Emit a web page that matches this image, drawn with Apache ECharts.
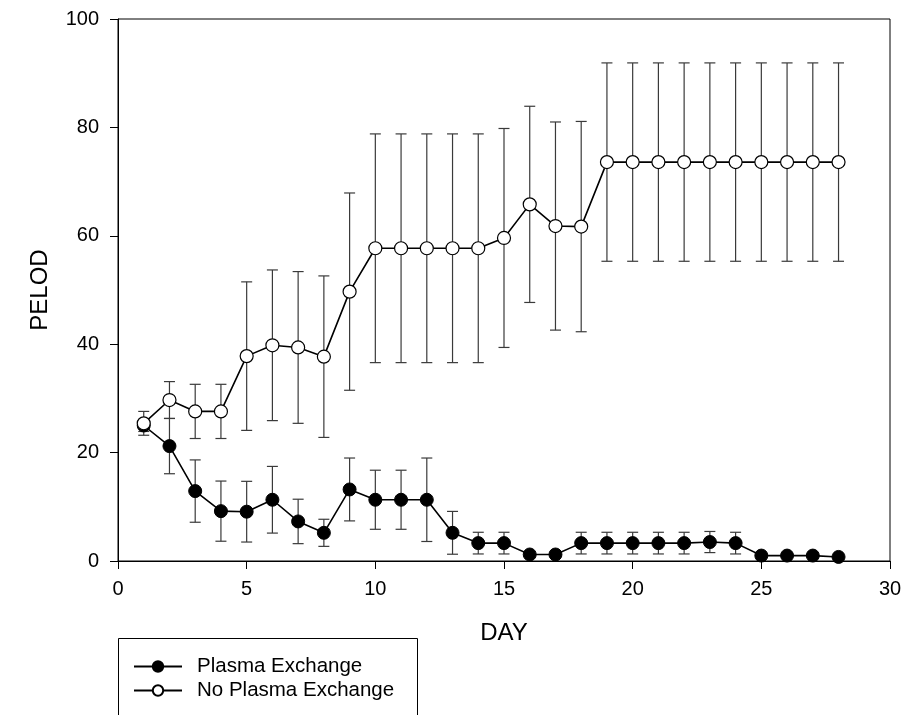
<!DOCTYPE html>
<html>
<head>
<meta charset="utf-8">
<script src="https://cdn.jsdelivr.net/npm/echarts@6/dist/echarts.min.js"></script>
<style>
html,body{margin:0;padding:0;background:#fff;}
#chart{width:906px;height:715px;}
</style>
</head>
<body>
<div id="chart"></div>
<script>
var days = [1,2,3,4,5,6,7,8,9,10,11,12,13,14,15,16,17,18,19,20,21,22,23,24,25,26,27,28];
var peMean = [25.0,21.2,12.9,9.2,9.1,11.3,7.3,5.2,13.2,11.3,11.3,11.3,5.2,3.3,3.3,1.2,1.2,3.3,3.3,3.3,3.3,3.3,3.5,3.3,1.0,1.0,1.0,0.75];
var peErr  = [1.1,5.1,5.75,5.55,5.6,6.15,4.1,2.5,5.8,5.45,5.45,7.7,3.95,2.0,2.0,0,0,2.0,2.0,2.0,2.0,2.0,1.95,2.0,0,0,0,0];
var noMean = [25.4,29.7,27.6,27.6,37.8,39.8,39.4,37.7,49.7,57.7,57.7,57.7,57.7,57.7,59.6,65.8,61.8,61.7,73.6,73.6,73.6,73.6,73.6,73.6,73.6,73.6,73.6,73.6];
var noErr  = [2.2,3.4,5.0,5.0,13.7,13.9,14.0,14.9,18.2,21.1,21.1,21.1,21.1,21.1,20.2,18.1,19.2,19.4,18.3,18.3,18.3,18.3,18.3,18.3,18.3,18.3,18.3,18.3];
var xTicks = [0,5,10,15,20,25,30];
var yTicks = [0,20,40,60,80,100];
var seriesNames = ['Plasma Exchange','No Plasma Exchange'];

function errData(mean, err){
  var out = [];
  for (var i=0;i<days.length;i++){
    if (err[i] > 0) out.push([days[i], mean[i]-err[i], mean[i]+err[i]]);
  }
  return out;
}
function renderErr(params, api){
  var x = api.value(0);
  var lo = api.coord([x, api.value(1)]);
  var hi = api.coord([x, api.value(2)]);
  var hw = 5.5;
  var st = {stroke:'#3a3a3a', lineWidth:1.2};
  return {type:'group', children:[
    {type:'line', shape:{x1:lo[0],y1:lo[1],x2:hi[0],y2:hi[1]}, style:st},
    {type:'line', shape:{x1:lo[0]-hw,y1:lo[1],x2:lo[0]+hw,y2:lo[1]}, style:st},
    {type:'line', shape:{x1:hi[0]-hw,y1:hi[1],x2:hi[0]+hw,y2:hi[1]}, style:st}
  ]};
}
function pairs(mean){ return days.map(function(d,i){return [d, mean[i]];}); }

var chart = echarts.init(document.getElementById('chart'));
var font = '"Liberation Sans", Arial, sans-serif';
chart.setOption({
  animation:false,
  backgroundColor:'#fff',
  grid:{left:118, right:16, top:19, bottom:154, show:true, borderColor:'#000', borderWidth:1},
  xAxis:{type:'value', min:xTicks[0], max:xTicks[xTicks.length-1], interval:5,
    name:'DAY', nameLocation:'middle', nameGap:60,
    nameTextStyle:{fontFamily:font, fontSize:24, color:'#000'},
    axisLine:{show:true, onZero:false, lineStyle:{color:'#000', width:1}},
    axisTick:{show:true, inside:false, length:8, lineStyle:{color:'#000'}},
    axisLabel:{margin:18, fontFamily:font, fontSize:20, color:'#000'},
    splitLine:{show:false}},
  yAxis:{type:'value', min:yTicks[0], max:yTicks[yTicks.length-1], interval:20,
    name:'PELOD', nameLocation:'middle', nameGap:66,
    nameTextStyle:{fontFamily:font, fontSize:24, color:'#000'},
    axisLine:{show:true, onZero:false, lineStyle:{color:'#000', width:1}},
    axisTick:{show:true, inside:false, length:8, lineStyle:{color:'#000'}},
    axisLabel:{margin:19, fontFamily:font, fontSize:20, color:'#000'},
    splitLine:{show:false}},
  legend:{data:seriesNames, orient:'vertical', left:133, top:656, padding:0,
    itemWidth:48, itemHeight:13, itemGap:3,
    textStyle:{fontFamily:font, fontSize:20.5, color:'#000', lineHeight:21, padding:[0,0,0,10]}},
  graphic:[{type:'rect', shape:{x:118.5, y:638.5, width:299, height:120},
    style:{fill:'none', stroke:'#000', lineWidth:1}, z:100}],
  series:[
    {type:'custom', name:'pe-err', renderItem:renderErr, data:errData(peMean, peErr), z:1, silent:true},
    {type:'custom', name:'no-err', renderItem:renderErr, data:errData(noMean, noErr), z:1, silent:true},
    {type:'line', name:seriesNames[0], data:pairs(peMean), symbol:'circle', symbolSize:13,
      lineStyle:{color:'#000', width:1.6}, itemStyle:{color:'#000', borderColor:'#000', borderWidth:1}, z:3},
    {type:'line', name:seriesNames[1], data:pairs(noMean), symbol:'circle', symbolSize:13,
      lineStyle:{color:'#000', width:1.6}, itemStyle:{color:'#fff', borderColor:'#000', borderWidth:1.2}, z:4}
  ]
});
</script>
</body>
</html>
